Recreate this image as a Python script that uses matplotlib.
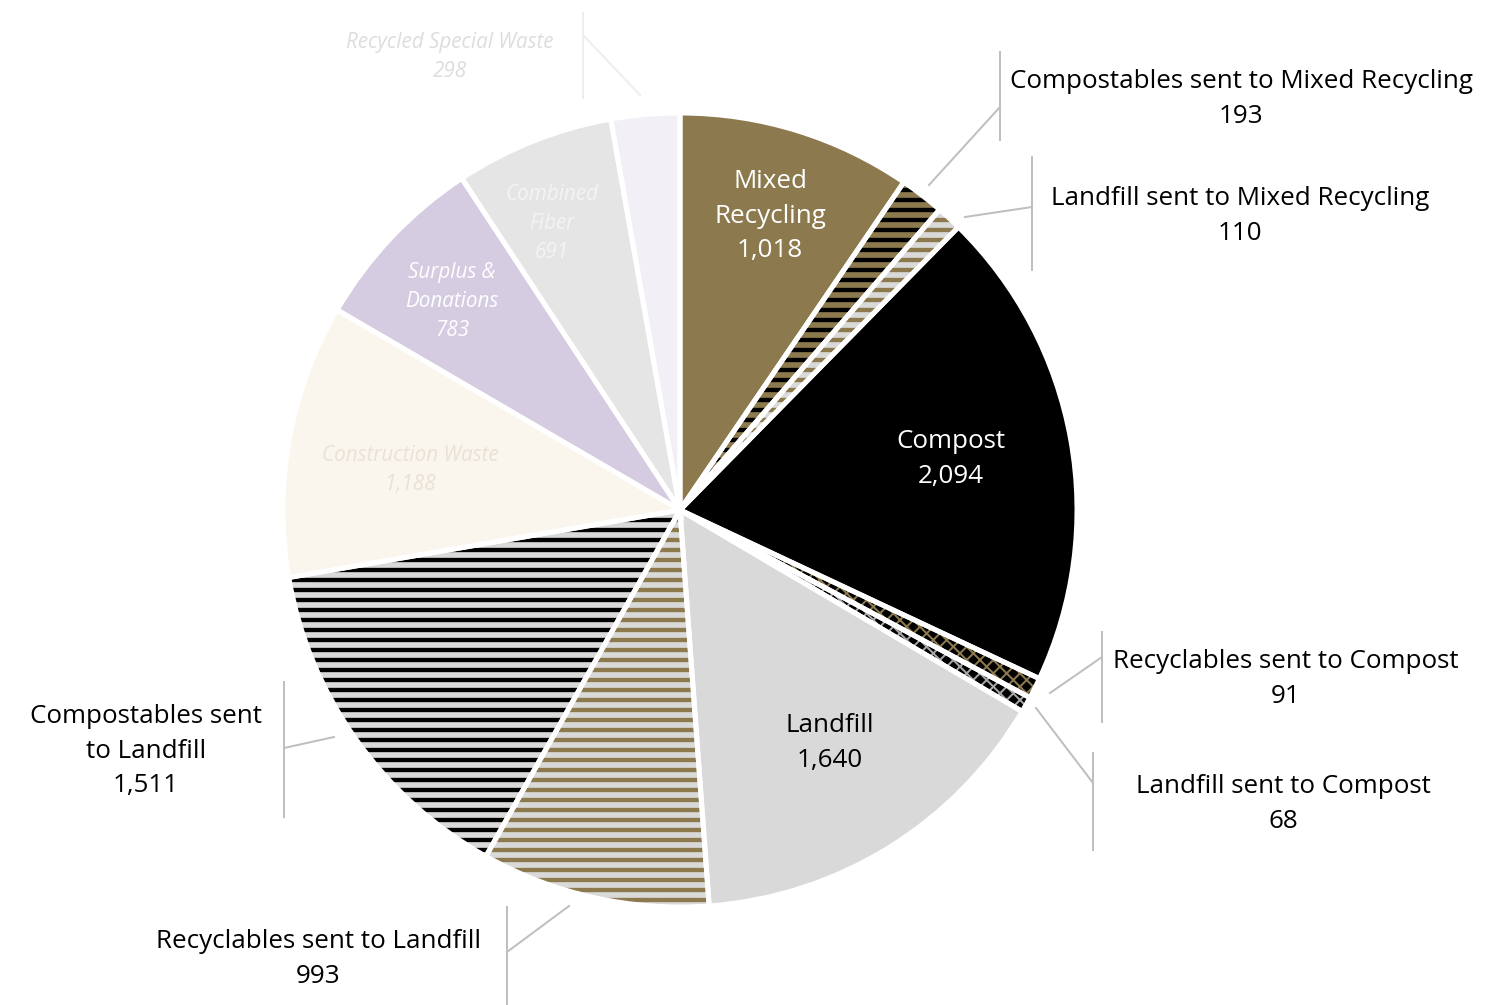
import matplotlib
matplotlib.use("Agg")
from matplotlib import pyplot as plt

# waste streams, clockwise from 12 o'clock
labels = [
    "Mixed\nRecycling", "Compostables sent to Mixed Recycling",
    "Landfill sent to Mixed Recycling", "Compost",
    "Recyclables sent to Compost", "Landfill sent to Compost",
    "Landfill", "Recyclables sent to Landfill",
    "Compostables sent\nto Landfill", "Construction Waste",
    "Surplus &\nDonations", "Combined\nFiber", "Recycled Special Waste",
]
values = [1018, 193, 110, 2094, 91, 68, 1640, 993, 1511, 1188, 783, 691, 298]
face_colors = ["#8C7A4E", "#000000", "#8C7A4E", "#000000", "#000000", "#000000",
               "#D9D9D9", "#8C7A4E", "#000000", "#FAF6EE", "#D5CCE2", "#E5E5E5",
               "#F2F0F6"]
hatch_colors = [None, "#8C7A4E", "#D9D9D9", None, "#8C7A4E", "#A6A6A6",
                None, "#D9D9D9", "#D9D9D9", None, None, None, None]
hatches = [None, "--", "--", None, "xxx", "xxx", None, "--", "--",
           None, None, None, None]

plt.rcParams["font.family"] = ["Open Sans", "DejaVu Sans"]
plt.rcParams["hatch.linewidth"] = 3.4

fig = plt.figure(dpi=120, figsize=(1498 / 120, 1005 / 120))
ax = fig.add_axes([0, 0, 1, 1])

center = (680, 1005 - 510)
radius = 397
explode = [0.01] * len(values)

wedges, _ = ax.pie(values, colors=face_colors, startangle=90, counterclock=False,
                   center=center, radius=radius, explode=explode,
                   wedgeprops=dict(linewidth=0))
for w, h, hc in zip(wedges, hatches, hatch_colors):
    if h:
        w.set_hatch(h)
        w.set_edgecolor(hc)
        if h == "xxx" and hasattr(w, "set_hatch_linewidth"):
            w.set_hatch_linewidth(1.2)

# white separators
ax.pie(values, colors=["none"] * len(values), startangle=90, counterclock=False,
       center=center, radius=radius, explode=explode,
       wedgeprops=dict(linewidth=3, edgecolor="white", facecolor="none"))

ax.set_xlim(0, 1498)
ax.set_ylim(0, 1005)
ax.set_aspect("equal")
ax.axis("off")


def px(x, y):
    return x, 1005 - y


big = 15.6
small = 12.4

inside = [
    (0, 770, 216, "white", big, "normal"),
    (3, 951, 459, "white", big, "normal"),
    (6, 830, 743, "black", big, "normal"),
    (9, 410, 470, "#E8E2D6", small, "italic"),
    (10, 452, 301, "white", small, "italic"),
    (11, 552, 223, "#F4F4F4", small, "italic"),
    (12, 450, 57, "#DDDDDD", small, "italic"),
]
for i, x, y, c, fs, st in inside:
    ax.text(*px(x, y), labels[i] + "\n" + f"{values[i]:,}", ha="center", va="center",
            color=c, fontsize=fs, style=st, linespacing=1.5)

outside = [
    (1, 1241, 99), (2, 1240, 216), (4, 1286, 679), (5, 1283, 804),
    (7, 318, 959), (8, 146, 751),
]
for i, x, y in outside:
    ax.text(*px(x, y), labels[i] + "\n" + f"{values[i]:,}", ha="center", va="center",
            color="black", fontsize=big, linespacing=1.5)

# leader lines: (vertical x, y top, y bottom, joint y, end x, end y)
leaders = [
    (1000, 52, 140, 107, 929, 185, "#BFBFBF"),
    (1032, 157, 270, 207, 965, 217, "#BFBFBF"),
    (1102, 632, 722, 657, 1050, 693, "#BFBFBF"),
    (1093, 753, 850, 783, 1036, 708, "#BFBFBF"),
    (284, 682, 817, 748, 334, 737, "#BFBFBF"),
    (507, 907, 1005, 952, 569, 906, "#BFBFBF"),
    (583, 13, 98, 35, 640, 95, "#EEEEEE"),
]
for vx, y0, y1, jy, ex, ey, c in leaders:
    ax.plot([vx, vx], [1005 - y0, 1005 - y1], color=c, lw=1.2)
    ax.plot([vx, ex], [1005 - jy, 1005 - ey], color=c, lw=1.2)

fig.savefig("out.png", dpi=120)
